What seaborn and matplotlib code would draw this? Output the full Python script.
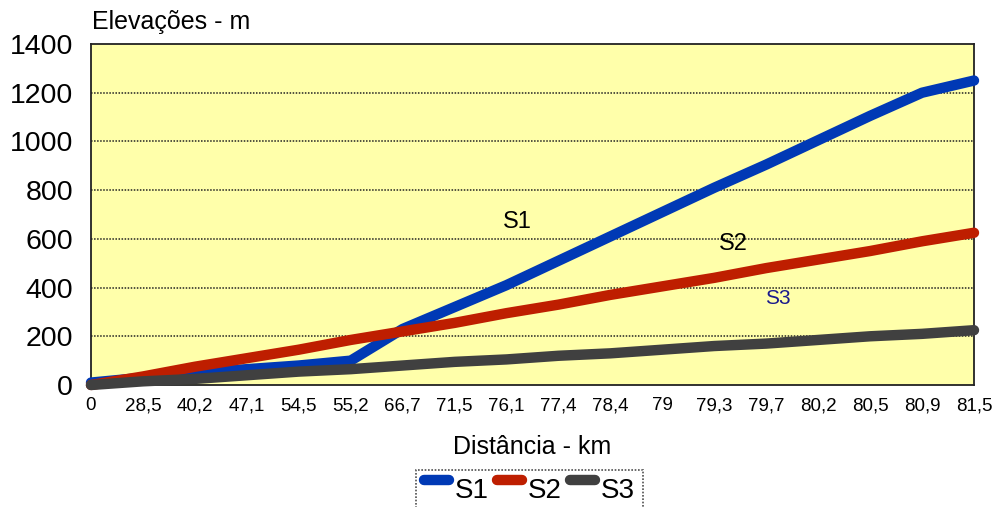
import matplotlib
matplotlib.use("Agg")
import matplotlib.pyplot as plt
import seaborn as sns
import pandas as pd
from matplotlib.lines import Line2D
from matplotlib.legend_handler import HandlerLine2D

# Distance stations along the route (km), shown as evenly spaced categories
distancias = ["0", "28,5", "40,2", "47,1", "54,5", "55,2", "66,7", "71,5", "76,1",
              "77,4", "78,4", "79", "79,3", "79,7", "80,2", "80,5", "80,9", "81,5"]

# Elevation profiles (m)
s1 = [10, 30, 50, 65, 80, 100, 230, 320, 410, 510, 610, 710, 810, 905, 1005, 1105, 1200, 1250]
s2 = [0, 35, 75, 110, 145, 185, 220, 255, 295, 330, 370, 405, 440, 480, 515, 550, 590, 625]
s3 = [0, 15, 25, 40, 55, 65, 80, 95, 105, 120, 130, 145, 160, 170, 185, 200, 210, 225]

series_names = ["S1", "S2", "S3"]
y_ticks = [0, 200, 400, 600, 800, 1000, 1200, 1400]

colors = {"S1": "#0039B5", "S2": "#BE1E00", "S3": "#404040"}

df = pd.DataFrame({
    "pos": list(range(len(distancias))) * 3,
    "elev": s1 + s2 + s3,
    "serie": [n for n, vals in zip(series_names, [s1, s2, s3]) for _ in vals],
})

sns.set_theme(style="white")
plt.rcParams["font.family"] = ["Liberation Sans", "DejaVu Sans"]
plt.rcParams["text.color"] = "black"
plt.rcParams["xtick.color"] = "black"
plt.rcParams["ytick.color"] = "black"

W, H = 994, 507
fig = plt.figure(figsize=(W / 100, H / 100), dpi=100)
left, right, top, bottom = 91, 974, 44, 385
ax = fig.add_axes([left / W, 1 - bottom / H, (right - left) / W, (bottom - top) / H])
ax.set_facecolor("#FFFFAA")

sns.lineplot(data=df, x="pos", y="elev", hue="serie", palette=colors,
             linewidth=7.5, solid_capstyle="round", clip_on=False,
             legend=False, ax=ax, zorder=3)

ax.set_xlim(0, len(distancias) - 1)
ax.set_ylim(0, 1400)
ax.set_xticks(range(len(distancias)))
ax.set_xticklabels(distancias, fontsize=13.5, color="black")
ax.set_yticks(y_ticks)
ax.set_yticklabels([str(v) for v in y_ticks], fontsize=20.5, color="black")
ax.tick_params(axis="both", length=0)
ax.tick_params(axis="y", pad=13)
ax.tick_params(axis="x", pad=9)
ax.set_xlabel("")
ax.set_ylabel("")

# Dotted horizontal gridlines and dotted plot frame
for v in y_ticks[1:-1]:
    ax.axhline(v, color="#222222", linewidth=1.1, linestyle=(0, (1, 1)), zorder=1)
for sp in ax.spines.values():
    sp.set_visible(True)
    sp.set_color("#222222")
    sp.set_linewidth(1.3)
    sp.set_linestyle((0, (1, 1)))

# Series annotations
ax.text(8.2, 669, "S1", fontsize=17, color="black", ha="center", va="center", zorder=4)
ax.text(12.36, 579, "S2", fontsize=17, color="black", ha="center", va="center", zorder=4)
ax.text(13.23, 357, "S3", fontsize=15, color="#1A1A8C", ha="center", va="center", zorder=4)

# Axis titles
fig.text(92 / W, 1 - 10 / H, "Elevações - m", fontsize=18, color="black",
         ha="left", va="top")
fig.text(532 / W, 1 - 447 / H, "Distância - km", fontsize=18, color="black",
         ha="center", va="center")


class RaisedLineHandler(HandlerLine2D):
    """Legend line handle drawn near the top of the label text."""

    def create_artists(self, legend, orig_handle, xdescent, ydescent, width,
                       height, fontsize, trans):
        artists = super().create_artists(legend, orig_handle, xdescent, ydescent,
                                         width, height, fontsize, trans)
        for a in artists:
            if isinstance(a, Line2D):
                a.set_ydata([y + 6 for y in a.get_ydata()])
        return artists


# Legend at the bottom edge of the figure
handles = [Line2D([0], [0], color=colors[n], linewidth=7.5, solid_capstyle="round")
           for n in series_names]
leg = fig.legend(handles, series_names, loc="upper left",
                 bbox_to_anchor=(416 / W, 1 - 470 / H), ncol=3, fontsize=20,
                 frameon=True, fancybox=False, handlelength=0.9, handletextpad=0.2,
                 columnspacing=0.3, borderpad=0.3, borderaxespad=0,
                 handler_map={Line2D: RaisedLineHandler()})
for t in leg.get_texts():
    t.set_color("black")
frame = leg.get_frame()
frame.set_edgecolor("#222222")
frame.set_linestyle((0, (1, 1)))
frame.set_linewidth(1.2)
frame.set_facecolor("white")

fig.savefig("out.png", dpi=100)
